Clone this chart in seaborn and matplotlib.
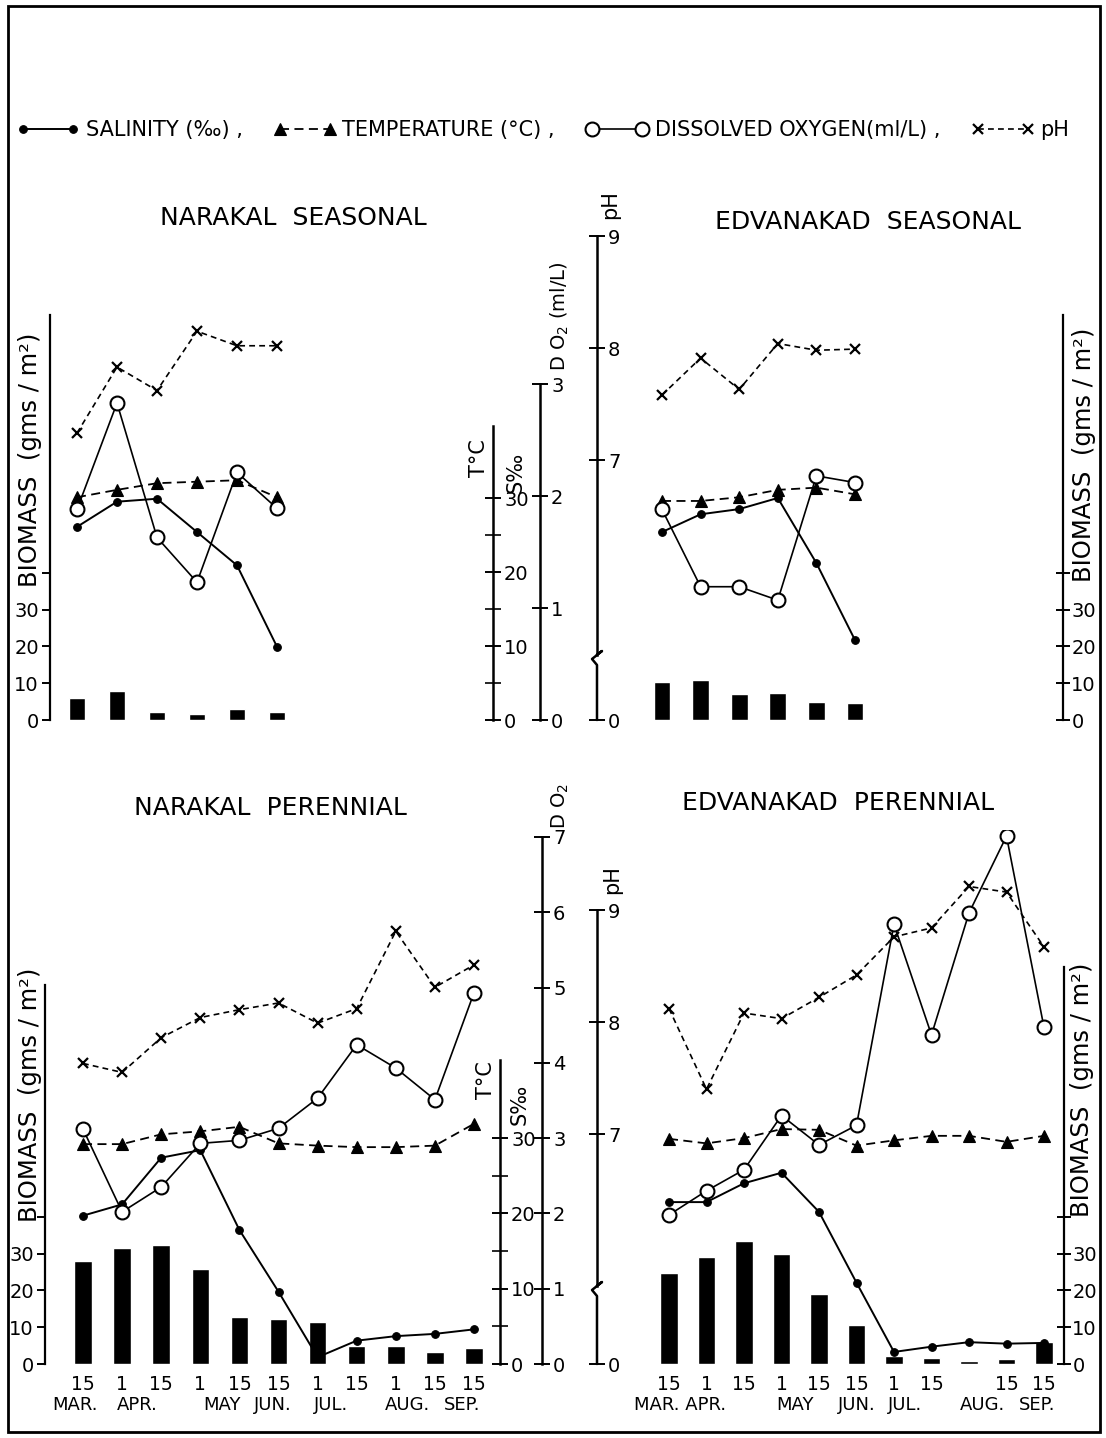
import numpy as np
import pandas as pd
import matplotlib
matplotlib.use("Agg")
import matplotlib.pyplot as plt
from matplotlib.patches import Rectangle
from matplotlib.lines import Line2D
import seaborn as sns

# ------------------------------------------------------------------ data
seasonal_idx = [0, 1, 2, 3, 4, 5]
perennial_idx = [0, 1, 2, 3, 4, 5, 6, 7, 8, 9, 10]
days_narakal = ["15", "1", "15", "1", "15", "15", "1", "15", "1", "15", "15"]
days_edvanakad = ["15", "1", "15", "1", "15", "15", "1", "15", "", "15", "15"]
months_narakal = ["MAR.", "APR.", "MAY", "JUN.", "JUL.", "AUG.", "SEP."]
months_edvanakad = ["MAR. APR.", "MAY", "JUN.", "JUL.", "AUG.", "SEP."]

# Narakal seasonal
ns_biomass = [6.0, 7.9, 2.2, 1.6, 3.0, 2.1]
ns_salinity = [26.1, 29.5, 29.9, 25.4, 20.9, 9.9]
ns_temperature = [30.1, 31.1, 32.0, 32.2, 32.4, 30.1]
ns_oxygen = [1.88, 2.83, 1.63, 1.23, 2.21, 1.89]
ns_ph = [7.24, 7.83, 7.62, 8.15, 8.02, 8.02]

# Edvanakad seasonal
es_biomass = [10.2, 11.0, 7.1, 7.4, 5.0, 4.7]
es_salinity = [25.4, 27.8, 28.5, 30.0, 21.2, 10.8]
es_temperature = [29.6, 29.6, 30.1, 31.1, 31.4, 30.5]
es_oxygen = [1.88, 1.19, 1.19, 1.07, 2.18, 2.12]
es_ph = [7.58, 7.91, 7.63, 8.04, 7.98, 7.99]

# Narakal perennial
np_biomass = [28.1, 31.6, 32.4, 25.9, 12.7, 12.2, 11.4, 4.9, 4.9, 3.2, 4.3]
np_salinity = [19.7, 21.2, 27.4, 28.4, 17.8, 9.6, 0.9, 3.1, 3.7, 4.0, 4.6]
np_temperature = [29.2, 29.2, 30.5, 30.9, 31.5, 29.3, 29.0, 28.8, 28.8, 29.0, 31.9]
np_oxygen = [3.12, 2.02, 2.35, 2.93, 2.97, 3.13, 3.53, 4.24, 3.93, 3.51, 4.93]
np_ph = [7.63, 7.55, 7.86, 8.04, 8.11, 8.17, 7.99, 8.12, 8.81, 8.31, 8.51]

# Edvanakad perennial
ep_biomass = [24.8, 29.2, 33.4, 30.0, 19.0, 10.7, 2.1, 1.5, 0.7, 1.3, 6.0]
ep_salinity = [21.5, 21.5, 24.0, 25.4, 20.2, 10.8, 1.6, 2.3, 2.9, 2.7, 2.8]
ep_temperature = [29.9, 29.3, 30.0, 31.2, 31.1, 29.0, 29.7, 30.3, 30.3, 29.5, 30.3]
ep_oxygen = [1.98, 2.30, 2.58, 3.30, 2.91, 3.17, 5.84, 4.37, 5.99, 7.01, 4.47]
ep_ph = [8.12, 7.40, 8.08, 8.03, 8.22, 8.42, 8.76, 8.84, 9.21, 9.16, 8.67]

# ------------------------------------------------------------------ style
W, H = 1106, 1438
sns.set_theme(style="white")
plt.rcParams['font.family'] = ['DejaVu Sans']
plt.rcParams['axes.linewidth'] = 1.6
INK = "black"

fig = plt.figure(figsize=(W / 100, H / 100), dpi=100)
fig.patch.set_facecolor("white")


def fx(px):
    return px / W


def fy(py):
    return 1 - py / H


def rect(x0, x1, ytop, ybot):
    return [fx(x0), fy(ybot), (x1 - x0) / W, (ybot - ytop) / H]


# row geometry (pixels) : top of drawing region, baseline, scale per unit
ROWS = {
    "top": dict(ytop=200, base=720, bio=3.68, st=7.4, do=112.0, ph7=460, ph=112.0,
                do_top=3, ph_break=655, t_top=426),
    "bot": dict(ytop=830, base=1364, bio=3.68, st=7.53, do=75.3, ph7=1134, ph=112.0,
                do_top=7, ph_break=1286, t_top=1060),
}


def limits(row):
    r = ROWS[row]
    span = r["base"] - r["ytop"]
    return dict(
        bio=(0, span / r["bio"]),
        st=(0, span / r["st"]),
        do=(0, span / r["do"]),
        ph=(7 - (r["base"] - r["ph7"]) / r["ph"], 7 + (r["ph7"] - r["ytop"]) / r["ph"]),
    )


counter = [0]


def new_axes(rc):
    counter[0] += 1
    ax = fig.add_axes(rc, label=f"ax{counter[0]}")
    ax.patch.set_alpha(0)
    return ax


legend_handles = []


def panel(row, side, x0, x1, first, step, idx, bio, sal, temp, oxy, ph, spine_top,
          bar_width, days=None, months=None, month_pos=None):
    r = ROWS[row]
    lim = limits(row)
    rc = rect(x0, x1, r["ytop"], r["base"])
    xl = ((x0 - first) / step, (x1 - first) / step)

    # biomass bars
    ax = new_axes(rc)
    sns.barplot(x=idx, y=bio, native_scale=True, color=INK, saturation=1,
                width=bar_width, errorbar=None, ax=ax)
    ax.set_ylim(*lim["bio"])
    ax.set_xlim(*xl)
    ax.set_xlabel("")
    ax.set_ylabel("")
    for s in ["top", "bottom"]:
        ax.spines[s].set_visible(False)
    ax.set_yticks([0, 10, 20, 30, 40])
    ax.set_yticklabels(["0", "10", "20", "30", ""])
    if side == "left":
        ax.spines["right"].set_visible(False)
        ax.spines["left"].set_bounds(0, spine_top)
        ax.tick_params(axis="y", direction="out", length=6, width=1.4,
                       labelsize=14, pad=2, left=True, colors=INK)
    else:
        ax.spines["left"].set_visible(False)
        ax.spines["right"].set_bounds(0, spine_top)
        ax.yaxis.tick_right()
        ax.tick_params(axis="y", direction="inout", length=10, width=1.4,
                       labelsize=14, pad=1, right=True, colors=INK)
    for s in ax.spines.values():
        s.set_color(INK)
    if days is not None:
        ax.set_xticks(idx)
        ax.set_xticklabels(days)
        ax.tick_params(axis="x", length=0, labelsize=13.5, pad=8, colors=INK)
        frac = -(1405 - r["base"]) / (r["base"] - r["ytop"])
        for lab, pos in zip(months, month_pos):
            ax.text(pos, frac, lab, transform=ax.get_xaxis_transform(),
                    ha="center", va="center", fontsize=13, color=INK)
    else:
        ax.set_xticks([])

    # pH
    axp = new_axes(rc)
    sns.lineplot(x=idx, y=ph, ax=axp, color=INK, lw=1.2, linestyle=(0, (3.5, 2.5)),
                 marker="x", markersize=7, markeredgewidth=1.6,
                 markeredgecolor=INK)
    axp.set_ylim(*lim["ph"])
    axp.set_xlim(*xl)
    axp.set_axis_off()

    # salinity + temperature (same scale)
    axs = new_axes(rc)
    sns.lineplot(x=idx, y=temp, ax=axs, color=INK, lw=1.3, linestyle=(0, (5, 3)),
                 marker="^", markersize=8, markeredgewidth=0.8,
                 markeredgecolor=INK, markerfacecolor=INK)
    sns.lineplot(x=idx, y=sal, ax=axs, color=INK, lw=1.4,
                 marker="o", markersize=5.5, markeredgewidth=0.8,
                 markeredgecolor=INK, markerfacecolor=INK)
    axs.set_ylim(*lim["st"])
    axs.set_xlim(*xl)
    axs.set_axis_off()

    # dissolved oxygen
    axo = new_axes(rc)
    sns.lineplot(x=idx, y=oxy, ax=axo, color=INK, lw=1.2,
                 marker="o", markersize=10, markeredgewidth=1.5,
                 markeredgecolor=INK, markerfacecolor="white")
    axo.set_ylim(*lim["do"])
    axo.set_xlim(*xl)
    axo.set_axis_off()

    if not legend_handles:
        legend_handles.extend([axs.get_lines()[-1], axs.get_lines()[0],
                               axo.get_lines()[-1], axp.get_lines()[-1]])


def center_axes(row, xT, xD, xP):
    r = ROWS[row]
    lim = limits(row)
    span = r["base"] - r["ytop"]

    def mk(xpx, ylim):
        a = new_axes([fx(xpx) - 0.0001, fy(r["base"]), 0.0001, span / H])
        a.set_ylim(*ylim)
        a.set_xticks([])
        for s in ["top", "bottom", "left"]:
            a.spines[s].set_visible(False)
        a.spines["right"].set_linewidth(1.8)
        a.spines["right"].set_color(INK)
        a.yaxis.tick_right()
        a.tick_params(axis="y", which="major", direction="inout", length=12, width=1.4,
                      labelsize=14, pad=2, colors=INK)
        a.tick_params(axis="y", which="minor", direction="inout", length=12, width=1.4)
        return a

    # temperature / salinity
    aT = mk(xT, lim["st"])
    aT.set_yticks([0, 10, 20, 30])
    aT.set_yticks([5, 15, 25], minor=True)
    aT.spines["right"].set_bounds(0, (r["base"] - r["t_top"]) / r["st"])
    # dissolved oxygen
    aD = mk(xD, lim["do"])
    aD.set_yticks(list(range(0, r["do_top"] + 1)))
    aD.spines["right"].set_bounds(0, r["do_top"])
    # pH with axis break
    aP = mk(xP, lim["ph"])
    lo = lim["ph"][0]
    brk = 7 - (r["ph_break"] - r["ph7"]) / r["ph"]
    aP.set_yticks([lo, 7, 8, 9])
    aP.set_yticklabels(["0", "7", "8", "9"])
    aP.spines["right"].set_bounds(brk, 9)
    yb = r["ph_break"]
    xs = [xP, xP, xP - 5, xP + 5, xP]
    ys = [r["base"], yb + 10, yb + 4, yb - 4, yb - 0.5]
    fig.add_artist(Line2D([fx(v) for v in xs], [fy(v) for v in ys],
                          transform=fig.transFigure, color=INK, lw=1.8))


# ------------------------------------------------------------------ panels
panel("top", "left", 50, 330, 77, 40.0, seasonal_idx, ns_biomass, ns_salinity,
      ns_temperature, ns_oxygen, ns_ph, spine_top=110, bar_width=0.4)
panel("top", "right", 640, 1063, 662, 38.6, seasonal_idx, es_biomass, es_salinity,
      es_temperature, es_oxygen, es_ph, spine_top=110, bar_width=0.44)
panel("bot", "left", 45, 490, 83, 39.1, perennial_idx, np_biomass, np_salinity,
      np_temperature, np_oxygen, np_ph, spine_top=103, bar_width=0.45,
      days=days_narakal, months=months_narakal,
      month_pos=[-0.2, 1.38, 3.55, 4.86, 6.34, 8.31, 9.69])
panel("bot", "right", 640, 1064, 669, 37.5, perennial_idx, ep_biomass, ep_salinity,
      ep_temperature, ep_oxygen, ep_ph, spine_top=108, bar_width=0.47,
      days=days_edvanakad, months=months_edvanakad,
      month_pos=[0.3, 3.36, 5.01, 6.29, 8.35, 9.81])

center_axes("top", 493, 540, 597)
center_axes("bot", 500, 542, 597)


# ------------------------------------------------------------------ texts
def ftext(x, y, s, **kw):
    kw.setdefault("color", INK)
    fig.text(fx(x), fy(y), s, **kw)


ftext(293, 218, "NARAKAL  SEASONAL", ha="center", va="center", fontsize=18)
ftext(868, 222, "EDVANAKAD  SEASONAL", ha="center", va="center", fontsize=18)
ftext(270, 808, "NARAKAL  PERENNIAL", ha="center", va="center", fontsize=18)
ftext(838, 803, "EDVANAKAD  PERENNIAL", ha="center", va="center", fontsize=18)

bio_label = "BIOMASS  (gms / m²)"
ftext(30, 460, bio_label, rotation=90, ha="center", va="center", fontsize=17.5)
ftext(1084, 455, bio_label, rotation=90, ha="center", va="center", fontsize=17.5)
ftext(30, 1095, bio_label, rotation=90, ha="center", va="center", fontsize=17.5)
ftext(1082, 1090, bio_label, rotation=90, ha="center", va="center", fontsize=17.5)

# center axis captions
ftext(479, 458, "T°C", rotation=90, ha="center", va="center", fontsize=15)
ftext(516, 472, "S‰", rotation=90, ha="center", va="center", fontsize=15)
ftext(560, 316, "D O$_2$ (ml/L)", rotation=90, ha="center", va="center", fontsize=14)
ftext(610, 205, "pH", rotation=90, ha="center", va="center", fontsize=15)

ftext(486, 1080, "T°C", rotation=90, ha="center", va="center", fontsize=15)
ftext(520, 1104, "S‰", rotation=90, ha="center", va="center", fontsize=15)
ftext(560, 806, "D O$_2$", rotation=90, ha="center", va="center", fontsize=14)
ftext(612, 880, "pH", rotation=90, ha="center", va="center", fontsize=15)

# legend
fig.legend(handles=legend_handles,
           labels=["SALINITY (‰) ,", "TEMPERATURE (°C) ,", "DISSOLVED OXYGEN(ml/L) ,", "pH"],
           loc="center", bbox_to_anchor=(fx(543), fy(130)), ncol=4, frameon=False,
           fontsize=15, numpoints=2, handlelength=3.0, handletextpad=0.3,
           columnspacing=1.5, labelcolor=INK)

# frame
fig.add_artist(Rectangle((fx(8), fy(1432)), (1100 - 8) / W, (1432 - 6) / H,
                         transform=fig.transFigure, fill=False, lw=2, color=INK))

fig.savefig("out.png", dpi=100, facecolor="white")
